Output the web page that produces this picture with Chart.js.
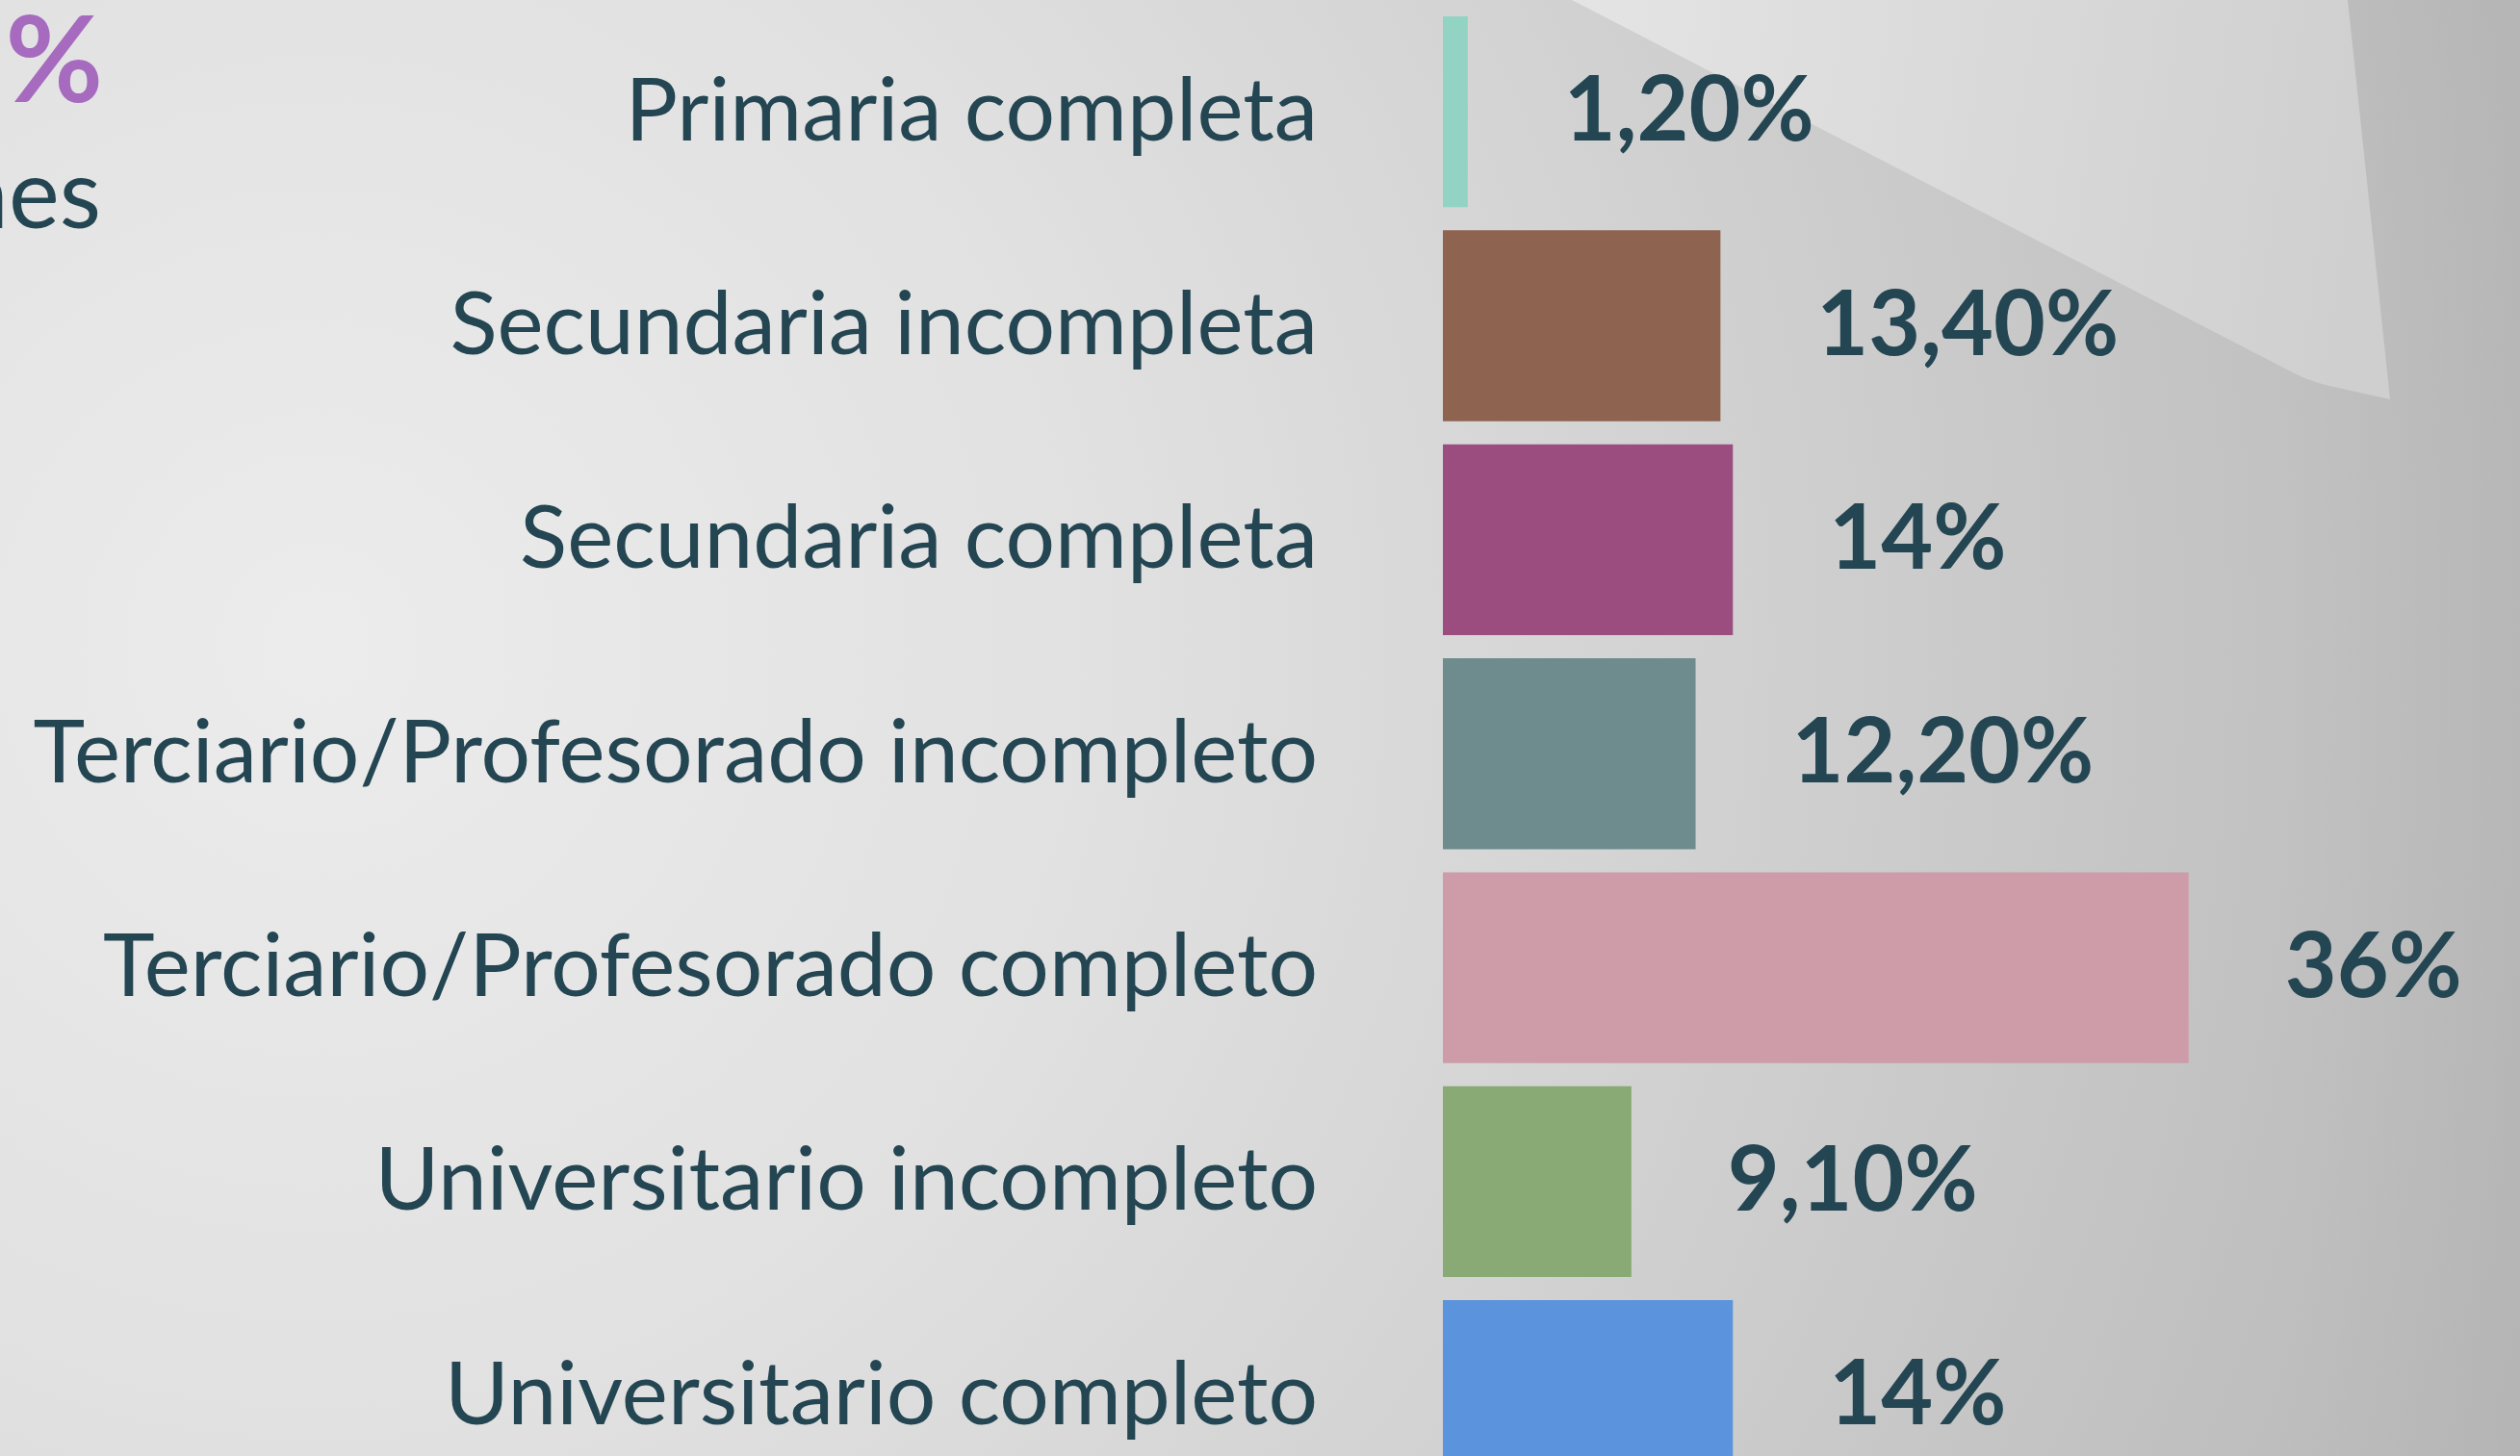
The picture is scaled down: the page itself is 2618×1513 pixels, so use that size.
<!DOCTYPE html>
<html>
<head>
<meta charset="utf-8">
<script src="https://cdn.jsdelivr.net/npm/chart.js@4.4.1/dist/chart.umd.min.js"></script>
<style>
  html, body { margin: 0; padding: 0; overflow: hidden; background: #dcdcdc; }
  #wrap { position: relative; width: 2618px; height: 1566px; }
  #chart { position: absolute; left: 0; top: 0; }
  .cut { position: absolute; white-space: nowrap; text-align: right; line-height: 1; font-family: Lato, sans-serif; }
  .pct { right: 2511px; top: -4px; font-size: 124px; font-weight: 700; color: #a66bbf; }
  .es { right: 2513px; top: 148px; font-size: 100px; font-weight: 400; color: #244653; }
</style>
</head>
<body>
<div id="wrap">
  <canvas id="chart" width="2618" height="1566"></canvas>
  <div class="cut pct">%</div>
  <div class="cut es">nes</div>
</div>
<script>
// chart data
var categories = ['Primaria completa', 'Secundaria incompleta', 'Secundaria completa',
    'Terciario/Profesorado incompleto', 'Terciario/Profesorado completo',
    'Universitario incompleto', 'Universitario completo'];
var percentValues = [1.2, 13.4, 14, 12.2, 36, 9.1, 14];
var barColors = ['#93d3c3', '#8e6350', '#9b4d80', '#6e8c8e', '#ce9ca8', '#89aa74', '#5b94dc'];

var textColor = '#244653';

function formatPercent(v) {
    if (Number.isInteger(v)) return v + '%';
    return v.toFixed(2).replace('.', ',') + '%';
}

// background gradient + page curl in the top right
var backgroundPlugin = {
    id: 'background',
    beforeDraw: function (chart) {
        var ctx = chart.ctx;
        var w = chart.width, h = chart.height;
        ctx.save();
        var g = ctx.createRadialGradient(330, 670, 0, 330, 670, 2450);
        g.addColorStop(0, '#ececec');
        g.addColorStop(0.33, '#e1e1e1');
        g.addColorStop(0.55, '#d4d4d4');
        g.addColorStop(1, '#b7b7b7');
        ctx.fillStyle = g;
        ctx.fillRect(0, 0, w, h);

        // darker band on the far right behind the curl
        var g2 = ctx.createLinearGradient(2380, 0, 2618, 0);
        g2.addColorStop(0, 'rgba(180,180,180,0)');
        g2.addColorStop(1, 'rgba(175,175,175,0.35)');
        ctx.fillStyle = g2;
        ctx.fillRect(2380, 0, 238, h);

        // curl
        ctx.beginPath();
        ctx.moveTo(1633, 0);
        ctx.lineTo(2374, 383);
        ctx.quadraticCurveTo(2395, 395, 2420, 401);
        ctx.lineTo(2483, 415);
        ctx.lineTo(2439, 0);
        ctx.closePath();
        var g3 = ctx.createLinearGradient(1650, 0, 2480, 120);
        g3.addColorStop(0, '#e4e4e4');
        g3.addColorStop(1, '#cfcfcf');
        ctx.fillStyle = g3;
        ctx.fill();
        ctx.restore();
    }
};

// value labels after the bar ends
var valueLabelPlugin = {
    id: 'valueLabels',
    afterDatasetsDraw: function (chart) {
        var ctx = chart.ctx;
        var meta = chart.getDatasetMeta(0);
        ctx.save();
        ctx.font = '700 93px Lato, sans-serif';
        ctx.fillStyle = textColor;
        ctx.textAlign = 'left';
        ctx.textBaseline = 'middle';
        meta.data.forEach(function (bar, i) {
            ctx.fillText(formatPercent(percentValues[i]), bar.x + 100, bar.y);
        });
        ctx.restore();
    }
};

var ctx = document.getElementById('chart').getContext('2d');
var chart = new Chart(ctx, {
    type: 'bar',
    data: {
        labels: categories,
        datasets: [{
            data: percentValues,
            backgroundColor: barColors,
            borderWidth: 0,
            barPercentage: 0.892,
            categoryPercentage: 1
        }]
    },
    options: {
        indexAxis: 'y',
        responsive: false,
        animation: false,
        layout: { padding: { top: 5, right: 0, bottom: 0, left: 0 } },
        plugins: {
            legend: { display: false },
            tooltip: { enabled: false }
        },
        scales: {
            x: {
                display: false,
                min: 0,
                max: 52
            },
            y: {
                // tick marks hidden, tickLength only used as gap before the labels
                grid: { display: false, drawTicks: true, tickLength: 130 },
                border: { display: false },
                ticks: {
                    padding: 0,
                    color: textColor,
                    font: { family: 'Lato', size: 91, weight: '400', lineHeight: 0.1 }
                },
                afterFit: function (scale) {
                    scale.width = 1499;
                }
            }
        }
    },
    plugins: [backgroundPlugin, valueLabelPlugin]
});
</script>
</body>
</html>
